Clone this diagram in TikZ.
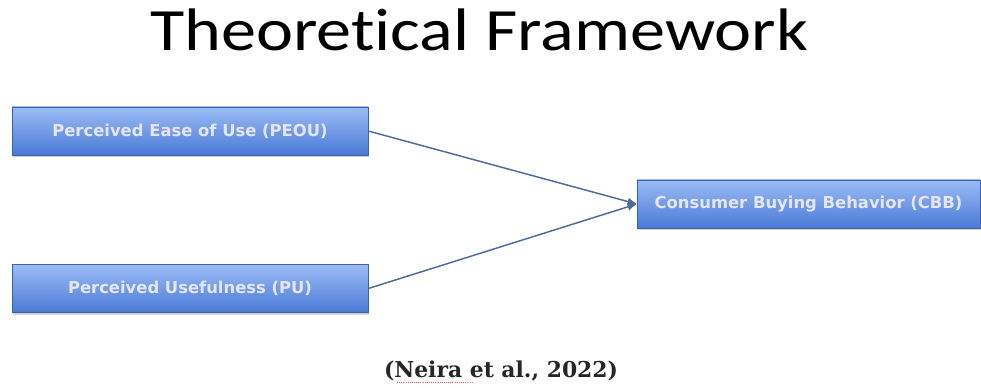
\documentclass[tikz,border=0pt]{standalone}
\usepackage{fontspec}
\setmainfont{Carlito}[Ligatures=NoCommon]
\newfontfamily\boxfont{DejaVu Sans}
\newfontfamily\citefont{DejaVu Serif}
\usetikzlibrary{shadows,arrows.meta}
\definecolor{boxtop}{HTML}{9BBBF5}
\definecolor{boxbot}{HTML}{4A7AD6}
\definecolor{arrowc}{HTML}{4F6A9A}
\tikzset{
  vbox/.style={draw=boxbot!80!black, line width=0.4pt, top color=boxtop, bottom color=boxbot,
    minimum height=36pt, inner sep=0pt, text=white!90!blue,
    font=\boxfont\bfseries\fontsize{12.3}{14}\selectfont,
    drop shadow={shadow xshift=0.6pt, shadow yshift=-1.5pt, opacity=0.35}},
  link/.style={draw=arrowc, line width=1.1pt, -{Latex[length=7pt,width=6pt]}}
}
\begin{document}
\begin{tikzpicture}[x=0.75pt,y=-0.75pt]
\useasboundingbox (0,0) rectangle (981,388);
\node[font=\fontsize{45}{50}\selectfont, anchor=base, xscale=1.17] (title) at (479,51) {Theoretical Framework};
\node[vbox, minimum width=267pt] (peou) at (190,131) {Perceived Ease of Use (PEOU)};
\node[vbox, minimum width=267pt] (pu) at (190,288.5) {Perceived Usefulness (PU)};
\node[vbox, minimum width=257pt] (cbb) at (808.5,204) {Consumer Buying Behavior (CBB)};
\draw[link] (peou.east) -- (cbb.west);
\draw[link] (pu.east) -- (cbb.west);
\node[font=\citefont\bfseries\fontsize{16.4}{18}\selectfont, anchor=base, text=black!85] (cite) at (501,377) {(Neira et al., 2022)};
\coordinate (ul1) at (397,382);
\coordinate (ul2) at (472,382);
\draw[red!70, line width=0.6pt, densely dotted] (ul1) -- (ul2);
\end{tikzpicture}
\end{document}
